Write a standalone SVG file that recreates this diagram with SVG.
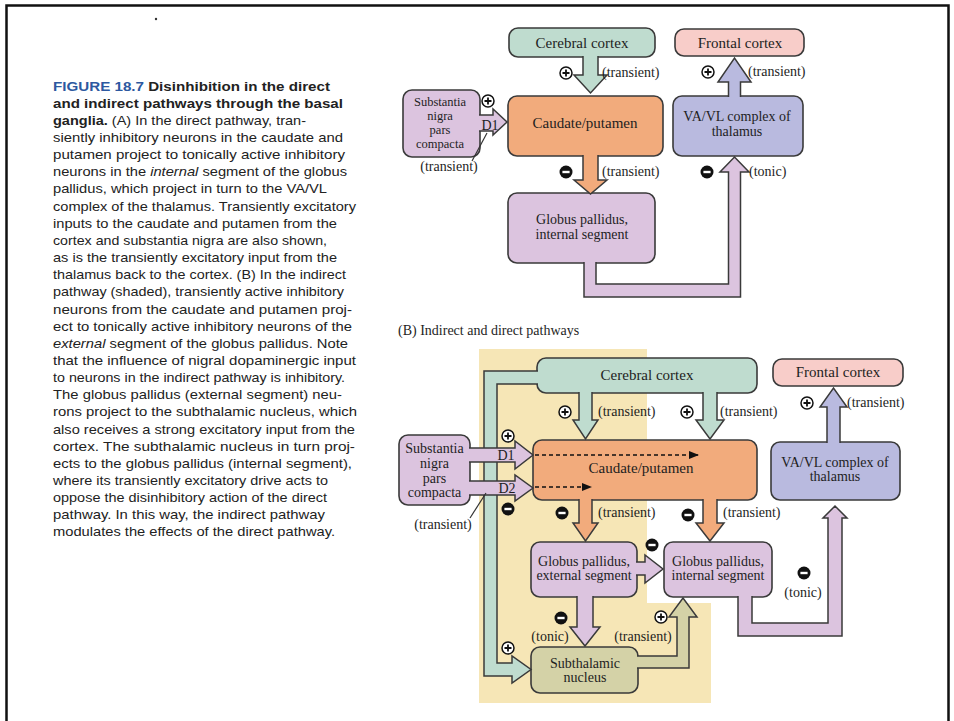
<svg xmlns="http://www.w3.org/2000/svg" xmlns:xlink="http://www.w3.org/1999/xlink" width="954" height="721" viewBox="0 0 954 721">
<style>
.box{stroke:#3a3a3a;stroke-width:1.6}
.arr{stroke:#3a3a3a;stroke-width:1.5;stroke-linejoin:miter}
.lbl{font-family:"Liberation Serif","Times New Roman",serif;font-size:15px;fill:#1e1e1e;text-anchor:middle}
.sn{font-size:14px}
.sna{font-size:12.5px}
.sm{font-family:"Liberation Serif","Times New Roman",serif;font-size:14px;fill:#1e1e1e}
.cap{font-family:"Liberation Sans",Arial,sans-serif;font-size:13.5px;fill:#222}
.b{font-weight:bold}
.fig{font-weight:bold;fill:#2c58a0}
.g{fill:#bfdccf}.o{fill:#f2ab7c}.p{fill:#dcc4df}.v{fill:#b9badf}.k{fill:#f8cdc9}.s{fill:#d4d2a7}
</style>
<defs>
<g id="plus"><circle r="6" fill="#fff" stroke="#111" stroke-width="1.5"/><path d="M-3.5,0H3.5M0,-3.5V3.5" stroke="#111" stroke-width="1.8"/></g>
<g id="minus"><circle r="6.5" fill="#111"/><path d="M-3.6,0H3.6" stroke="#fff" stroke-width="2.4"/></g>
<marker id="dh" markerWidth="10" markerHeight="8" refX="9" refY="4" orient="auto" markerUnits="userSpaceOnUse"><path d="M0,0L10,4L0,8Z" fill="#111"/></marker>
</defs>
<rect width="954" height="721" fill="#fff"/>
<path d="M6.5,721V5.5H948.5V721" fill="none" stroke="#111" stroke-width="2.5"/>
<circle cx="156" cy="19" r="1.2" fill="#333"/>

<g id="caption" class="cap">
<text x="53" y="90.5" textLength="277" lengthAdjust="spacingAndGlyphs"><tspan class="fig">FIGURE 18.7</tspan><tspan class="b">  Disinhibition in the direct</tspan></text>
<text x="53" y="107.7" class="b" textLength="290" lengthAdjust="spacingAndGlyphs">and indirect pathways through the basal</text>
<text x="53" y="124.8" textLength="253" lengthAdjust="spacingAndGlyphs"><tspan class="b">ganglia.</tspan> (A) In the direct pathway, tran-</text>
<text x="53" y="142" textLength="290" lengthAdjust="spacingAndGlyphs">siently inhibitory neurons in the caudate and</text>
<text x="53" y="159.1" textLength="292" lengthAdjust="spacingAndGlyphs">putamen project to tonically active inhibitory</text>
<text x="53" y="176.3" textLength="294" lengthAdjust="spacingAndGlyphs">neurons in the <tspan font-style="italic">internal</tspan> segment of the globus</text>
<text x="53" y="193.4" textLength="274" lengthAdjust="spacingAndGlyphs">pallidus, which project in turn to the VA/VL</text>
<text x="53" y="210.6" textLength="303" lengthAdjust="spacingAndGlyphs">complex of the thalamus. Transiently excitatory</text>
<text x="53" y="227.7" textLength="284" lengthAdjust="spacingAndGlyphs">inputs to the caudate and putamen from the</text>
<text x="53" y="244.9" textLength="274" lengthAdjust="spacingAndGlyphs">cortex and substantia nigra are also shown,</text>
<text x="53" y="262" textLength="284" lengthAdjust="spacingAndGlyphs">as is the transiently excitatory input from the</text>
<text x="53" y="279.2" textLength="293" lengthAdjust="spacingAndGlyphs">thalamus back to the cortex. (B) In the indirect</text>
<text x="53" y="296.3" textLength="291" lengthAdjust="spacingAndGlyphs">pathway (shaded), transiently active inhibitory</text>
<text x="53" y="313.5" textLength="299" lengthAdjust="spacingAndGlyphs">neurons from the caudate and putamen proj-</text>
<text x="53" y="330.6" textLength="299" lengthAdjust="spacingAndGlyphs">ect to tonically active inhibitory neurons of the</text>
<text x="53" y="347.8" textLength="295" lengthAdjust="spacingAndGlyphs"><tspan font-style="italic">external</tspan> segment of the globus pallidus. Note</text>
<text x="53" y="364.9" textLength="303" lengthAdjust="spacingAndGlyphs">that the influence of nigral dopaminergic input</text>
<text x="53" y="382.1" textLength="292" lengthAdjust="spacingAndGlyphs">to neurons in the indirect pathway is inhibitory.</text>
<text x="53" y="399.2" textLength="289" lengthAdjust="spacingAndGlyphs">The globus pallidus (external segment) neu-</text>
<text x="53" y="416.4" textLength="304" lengthAdjust="spacingAndGlyphs">rons project to the subthalamic nucleus, which</text>
<text x="53" y="433.5" textLength="302" lengthAdjust="spacingAndGlyphs">also receives a strong excitatory input from the</text>
<text x="53" y="450.7" textLength="302" lengthAdjust="spacingAndGlyphs">cortex. The subthalamic nucleus in turn proj-</text>
<text x="53" y="467.8" textLength="299" lengthAdjust="spacingAndGlyphs">ects to the globus pallidus (internal segment),</text>
<text x="53" y="485" textLength="275" lengthAdjust="spacingAndGlyphs">where its transiently excitatory drive acts to</text>
<text x="53" y="502.1" textLength="274" lengthAdjust="spacingAndGlyphs">oppose the disinhibitory action of the direct</text>
<text x="53" y="519.3" textLength="272" lengthAdjust="spacingAndGlyphs">pathway. In this way, the indirect pathway</text>
<text x="53" y="536.4" textLength="282" lengthAdjust="spacingAndGlyphs">modulates the effects of the direct pathway.</text>
</g>

<text x="398" y="335" class="sm">(B)  Indirect and direct pathways</text>

<path id="shade" d="M479,349H647V603H711V703H479Z" fill="#f6e6b6"/>

<!-- Panel A nodes -->
<g id="a-cortex"><rect class="box g" x="509" y="28" width="146" height="29" rx="9"/><text class="lbl" x="582" y="47.5">Cerebral cortex</text></g>
<g id="a-frontal"><rect class="box k" x="675" y="29" width="129" height="27" rx="9"/><text class="lbl" x="740" y="47.5">Frontal cortex</text></g>
<g id="a-caudate"><rect class="box o" x="508" y="96" width="155" height="60" rx="9"/><text class="lbl" x="585" y="128">Caudate/putamen</text></g>
<g id="a-snc"><rect class="box p" x="403" y="90" width="77" height="67" rx="9"/><text class="lbl sna" x="440" y="106">Substantia</text><text class="lbl sna" x="440" y="120">nigra</text><text class="lbl sna" x="440" y="134">pars</text><text class="lbl sna" x="440" y="148">compacta</text></g>
<g id="a-vavl"><rect class="box v" x="673" y="96" width="130" height="60" rx="9"/><text class="lbl sn" x="737" y="121">VA/VL complex of</text><text class="lbl sn" x="737" y="136">thalamus</text></g>
<g id="a-gpi"><rect class="box p" x="508" y="193" width="147" height="70" rx="9"/><text class="lbl sn" x="582" y="224">Globus pallidus,</text><text class="lbl sn" x="582" y="239">internal segment</text></g>

<!-- Panel B nodes -->
<g id="b-cortex"><rect class="box g" x="537" y="358" width="220" height="35" rx="9"/><text class="lbl" x="647" y="380">Cerebral cortex</text></g>
<g id="b-frontal"><rect class="box k" x="773" y="359" width="130" height="27" rx="9"/><text class="lbl" x="838" y="377">Frontal cortex</text></g>
<g id="b-caudate"><rect class="box o" x="533" y="440" width="224" height="60" rx="9"/><text class="lbl" x="641" y="473">Caudate/putamen</text></g>
<g id="b-snc"><rect class="box p" x="399" y="435" width="71" height="70" rx="9"/><text class="lbl sn" x="434.5" y="453">Substantia</text><text class="lbl sn" x="434.5" y="468">nigra</text><text class="lbl sn" x="434.5" y="482.5">pars</text><text class="lbl sn" x="434.5" y="497">compacta</text></g>
<g id="b-vavl"><rect class="box v" x="771" y="442" width="129" height="58" rx="9"/><text class="lbl sn" x="835" y="467">VA/VL complex of</text><text class="lbl sn" x="835" y="481">thalamus</text></g>
<g id="b-gpe"><rect class="box p" x="531" y="542" width="106" height="55" rx="9"/><text class="lbl sn" x="584" y="566">Globus pallidus,</text><text class="lbl sn" x="584" y="580">external segment</text></g>
<g id="b-gpi"><rect class="box p" x="664" y="542" width="108" height="55" rx="9"/><text class="lbl sn" x="718" y="566">Globus pallidus,</text><text class="lbl sn" x="718" y="580">internal segment</text></g>
<g id="b-stn"><rect class="box s" x="531" y="647" width="107" height="46" rx="9"/><text class="lbl sn" x="585" y="668">Subthalamic</text><text class="lbl sn" x="585" y="682">nucleus</text></g>

<g id="connectors">
<!-- Panel A -->
<path class="arr g" d="M583,56V75H574L590.5,93L607,75H598V56"/>
<path class="arr o" d="M583,155V180H574L590.5,194L607,180H598V155"/>
<path class="arr p" d="M479,115H493V109L507,122L493,135V131H479"/>
<path class="arr p" d="M584,262V297H740.5V172H749L734.5,157L720,172H728.5V284H596V262"/>
<path class="arr v" d="M728.5,97V82H718L734.5,58L751,82H740.5V97"/>
<text class="sm" x="490" y="130" text-anchor="middle" font-size="13">D1</text>
<path d="M472,161L487,133" stroke="#333" stroke-width="1.2"/>
<text class="sm" x="449" y="171" text-anchor="middle">(transient)</text>
<use href="#plus" x="566" y="73"/><text class="sm" x="602" y="77">(transient)</text>
<use href="#plus" x="488" y="101"/>
<use href="#minus" x="566" y="172"/><text class="sm" x="602" y="176">(transient)</text>
<use href="#plus" x="708" y="72"/><text class="sm" x="748" y="76">(transient)</text>
<use href="#minus" x="707" y="172"/><text class="sm" x="749" y="176">(tonic)</text>

<!-- Panel B -->
<path class="arr g" d="M538,371H484V676H512V683L531,669.5L512,656V663H497V384H538"/>
<path class="arr g" d="M579,392V420H573L585.5,439L598,420H592V392"/>
<path class="arr g" d="M703,392V420H696L710,439L724,420H717V392"/>
<path class="arr p" d="M469,448H515V441L533,455L515,469V462H469"/>
<path class="arr p" d="M469,481H515V475L533,488L515,501V495H469"/>
<path class="arr o" d="M579,499V523H573L585.5,541L598,523H592V499"/>
<path class="arr o" d="M703,499V523H696L710,541L724,523H717V499"/>
<path class="arr p" d="M636,562H645V555L663,569L645,583V575H636"/>
<path class="arr p" d="M577,596V627H570L585,646L600,627H593V596"/>
<path class="arr s" d="M637,656H677V617H669L683,598L697,617H689V668H637"/>
<path class="arr p" d="M738,596V636H842V518H847L835,506L823,518H828V623H752V596"/>
<path class="arr v" d="M827,443V407H820L833.5,388L847,407H840V443"/>
<path d="M535,455H698" stroke="#111" stroke-width="1.6" stroke-dasharray="4 3" fill="none" marker-end="url(#dh)"/>
<path d="M535,487H591" stroke="#111" stroke-width="1.6" stroke-dasharray="4 3" fill="none" marker-end="url(#dh)"/>
<text class="sm" x="506" y="460" text-anchor="middle" font-size="13">D1</text>
<text class="sm" x="507" y="492.5" text-anchor="middle" font-size="13">D2</text>
<path d="M470,518L486,493" stroke="#333" stroke-width="1.2"/>
<text class="sm" x="443" y="529" text-anchor="middle">(transient)</text>
<use href="#plus" x="508" y="436"/>
<use href="#minus" x="508" y="509"/>
<use href="#plus" x="565" y="412"/><text class="sm" x="598" y="416">(transient)</text>
<use href="#plus" x="687" y="412"/><text class="sm" x="720" y="416">(transient)</text>
<use href="#minus" x="562" y="513"/><text class="sm" x="598" y="517">(transient)</text>
<use href="#minus" x="688" y="515"/><text class="sm" x="723" y="517">(transient)</text>
<use href="#minus" x="652" y="545"/>
<use href="#minus" x="561" y="618"/><text class="sm" x="550" y="641" text-anchor="middle">(tonic)</text>
<use href="#plus" x="661" y="617"/><text class="sm" x="643" y="641" text-anchor="middle">(transient)</text>
<use href="#plus" x="508" y="648"/>
<use href="#minus" x="804" y="573"/><text class="sm" x="803" y="597" text-anchor="middle">(tonic)</text>
<use href="#plus" x="807" y="403"/><text class="sm" x="847" y="407">(transient)</text>
</g>
</svg>
